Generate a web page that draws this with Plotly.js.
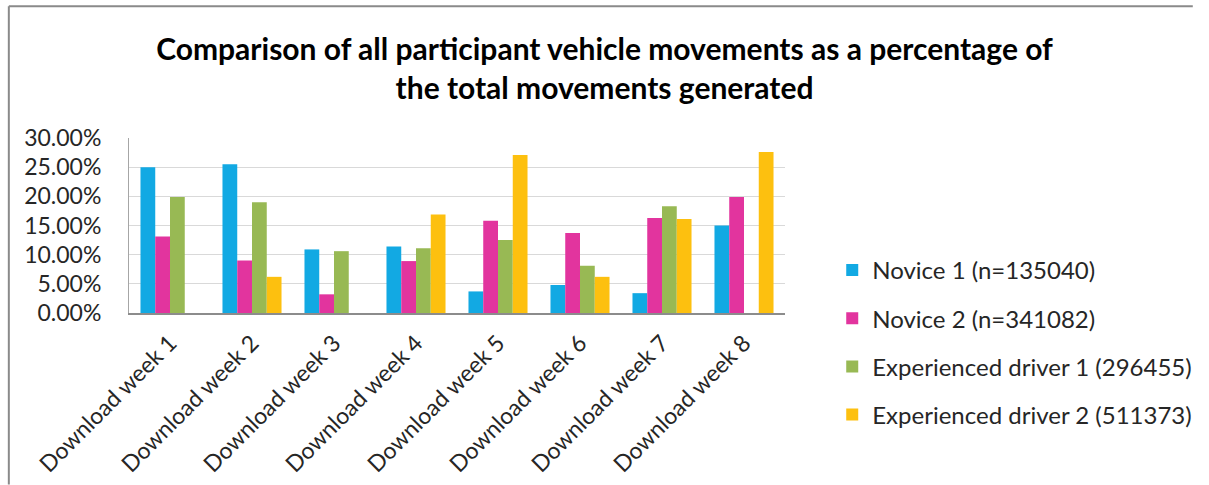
<!DOCTYPE html>
<html>
<head>
<meta charset="utf-8">
<script src="https://cdn.plot.ly/plotly-3.0.1.min.js"></script>
<style>
html,body{margin:0;padding:0;background:#fff;}
#chart{width:1209px;height:485px;}
</style>
</head>
<body>
<div id="chart"></div>
<script>
const categories = ["Download week 1","Download week 2","Download week 3","Download week 4","Download week 5","Download week 6","Download week 7","Download week 8"];
const seriesNames = ["Novice 1 (n=135040)","Novice 2 (n=341082)","Experienced driver 1 (296455)","Experienced driver 2 (511373)"];
const novice1 = [25.0, 25.5, 10.9, 11.4, 3.7, 4.8, 3.4, 15.0];
const novice2 = [13.1, 9.0, 3.2, 8.9, 15.8, 13.7, 16.3, 19.9];
const experienced1 = [19.9, 19.0, 10.6, 11.1, 12.5, 8.1, 18.3, 0];
const experienced2 = [0, 6.2, 0, 16.9, 27.1, 6.2, 16.1, 27.6];
const yTicks = [0, 5, 10, 15, 20, 25, 30];

const colors = ["#12A9E3", "#E2349E", "#98B954", "#FDC00F"];
const allSeries = [novice1, novice2, experienced1, experienced2];

const FONT = "Lato, Calibri, Carlito, sans-serif";

const traces = allSeries.map((vals, i) => ({
  type: "bar",
  name: seriesNames[i],
  x: categories,
  y: vals,
  marker: {color: colors[i]},
  legendgroup: "g" + i,
  hoverinfo: "x+y+name"
}));

const layout = {
  width: 1209,
  height: 485,
  paper_bgcolor: "#ffffff",
  plot_bgcolor: "#ffffff",
  margin: {l: 129, r: 414, t: 138, b: 172, pad: 0},
  font: {family: FONT, color: "#262626"},
  title: {
    text: "<b>Comparison of all participant vehicle movements as a percentage of<br>the total movements generated</b>",
    font: {family: FONT, size: 30, color: "#000000"},
    x: 0.5, xref: "container", xanchor: "center",
    y: (485 - 60) / 485, yref: "container", yanchor: "middle"
  },
  barmode: "group",
  bargap: 0.28,
  bargroupgap: 0,
  xaxis: {
    type: "category",
    tickangle: -45,
    tickfont: {family: FONT, size: 23, color: "#262626"},
    showline: true,
    linecolor: "#8c8c8c",
    linewidth: 1.5,
    ticks: "",
    ticklabelstandoff: 6,
    showgrid: false,
    fixedrange: true
  },
  yaxis: {
    range: [0, 30],
    tickvals: yTicks,
    ticktext: yTicks.map(v => v.toFixed(2) + "%"),
    tickfont: {family: FONT, size: 23, color: "#262626"},
    showline: true,
    linecolor: "#a6a6a6",
    linewidth: 1,
    showgrid: true,
    gridcolor: "#d9d9d9",
    gridwidth: 1,
    zeroline: false,
    ticks: "",
    ticklabelstandoff: 22,
    fixedrange: true
  },
  showlegend: true,
  legend: {
    x: 1.072, xanchor: "left",
    y: 0.372, yanchor: "top",
    font: {family: FONT, size: 24, color: "#262626"},
    tracegroupgap: 14,
    bgcolor: "rgba(0,0,0,0)",
    itemwidth: 30,
    maxheight: 485
  },
  shapes: [
    {type: "line", xref: "paper", yref: "paper",
     x0: (7 - 129) / 666, x1: (1209 - 129) / 666,
     y0: (313.3 - 6) / 175.3, y1: (313.3 - 6) / 175.3,
     line: {color: "#8a8a8a", width: 2}},
    {type: "line", xref: "paper", yref: "paper",
     x0: (7 - 129) / 666, x1: (7 - 129) / 666,
     y0: (313.3 - 6) / 175.3, y1: (313.3 - 485) / 175.3,
     line: {color: "#8a8a8a", width: 2}}
  ]
};

Plotly.newPlot("chart", traces, layout, {displayModeBar: false, staticPlot: true});
</script>
</body>
</html>
